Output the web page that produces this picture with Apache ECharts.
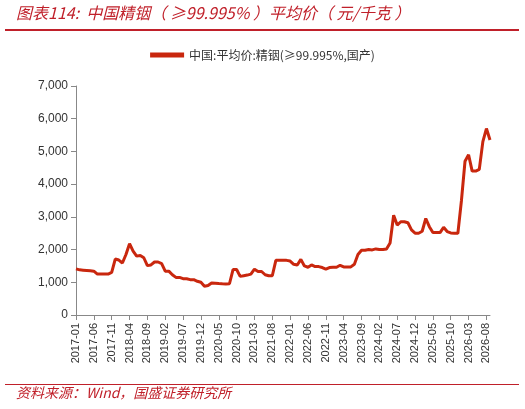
<!DOCTYPE html>
<html><head><meta charset="utf-8">
<script src="https://cdn.jsdelivr.net/npm/echarts@6/dist/echarts.min.js"></script>
<style>body{margin:0;background:#fff}#c{width:525px;height:409px}</style>
</head><body><div id="c"></div>
<script>
const seriesName = '中国:平均价:精铟(≥99.995%,国产)';
const values = [
1410,1380,1370,1360,1350,1340,1250,1250,1250,1250,1300,1710,1680,1590,1850,2180,1950,1800,1820,1750,
1510,1530,1620,1620,1570,1340,1340,1230,1150,1150,1110,1110,1080,1080,1030,1000,880,900,980,970,
960,953,950,955,1390,1390,1180,1200,1220,1250,1400,1330,1330,1230,1200,1200,1670,1670,1670,1670,
1650,1550,1530,1700,1500,1460,1530,1480,1480,1450,1400,1450,1460,1460,1520,1470,1470,1470,1550,1850,
1980,1980,2000,1990,2020,2000,2000,2020,2200,3050,2750,2850,2850,2820,2600,2500,2500,2560,2950,2700,
2520,2520,2520,2680,2550,2510,2500,2500,3500,4700,4900,4400,4400,4450,5300,5700,5350];
const categories = [];
for (let i = 0; i < values.length; i++) {
  const y = 2017 + Math.floor(i / 12), m = i % 12 + 1;
  categories.push(y + '-' + (m < 10 ? '0' : '') + m);
}
const chart = echarts.init(document.getElementById('c'));
chart.setOption({
  animation: false,
  graphic: [
    {type:'text', left: 16, top: 5, style:{text:'图表114:  中国精铟（ ≥99.995% ）平均价（ 元/千克 ）', fill:'#c0202a', font:'italic 16px "Noto Sans CJK SC"'}},
    {type:'rect', shape:{x:5,y:29,width:514,height:2}, style:{fill:'#c0202a'}},
    {type:'rect', shape:{x:5,y:384,width:514,height:1}, style:{fill:'#c0202a'}},
    {type:'text', left: 16, top: 386, style:{text:'资料来源：Wind，国盛证券研究所', fill:'#c0202a', font:'italic 14px "Noto Sans CJK SC"'}}
  ],
  legend: {top: 44, left: 'center', itemWidth: 34, itemHeight: 5, icon: 'rect',
    textStyle: {fontSize: 12, color: '#333', fontFamily: '"Noto Sans CJK SC"'}, data:[seriesName]},
  grid: {left: 76, right: 35, top: 86, bottom: 94},
  xAxis: {type: 'category', data: categories, boundaryGap: false,
    axisLine: {lineStyle: {color: '#888'}},
    axisTick: {interval: 4, lineStyle: {color: '#888'}},
    axisLabel: {interval: 4, rotate: 90, fontSize: 11, color: '#333', fontFamily: 'Liberation Sans'}},
  yAxis: {type: 'value', min: 0, max: 7000, interval: 1000,
    axisLine: {show: true, lineStyle: {color: '#888'}},
    axisTick: {show: true, lineStyle: {color: '#888'}},
    splitLine: {show: false},
    axisLabel: {fontSize: 12, color: '#333', fontFamily: 'Liberation Sans',
      formatter: v => v.toLocaleString('en-US')}},
  series: [{name: seriesName, type: 'line', data: values, symbol: 'none',
    lineStyle: {color: '#c9270e', width: 3}, itemStyle: {color: '#c9270e'}}]
});
</script></body></html>
